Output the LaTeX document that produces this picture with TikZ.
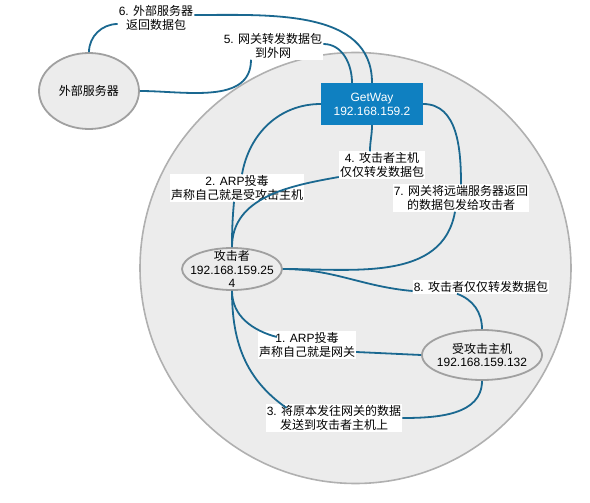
\documentclass[tikz,border=0pt]{standalone}
\usepackage{fontspec}
\setmainfont{Liberation Sans}
\newfontfamily\cjk{Noto Sans CJK SC}
\newcommand{\zh}[1]{{\cjk #1}}
\usepackage{tikz}
\usetikzlibrary{shapes.geometric}
\definecolor{wire}{HTML}{1A6890}
\definecolor{gwblue}{HTML}{0F80C1}
\definecolor{lanfill}{HTML}{ECECEC}
\definecolor{lanline}{HTML}{B0B0B0}
\definecolor{hostline}{HTML}{A0A0A0}

\begin{document}
\begin{tikzpicture}[x=1pt,y=-1pt,
    lbl/.style={fill=white,inner sep=1pt,align=center,font=\fontsize{12}{14}\selectfont},
    host/.style={ellipse,draw=hostline,line width=1.8pt,fill=lanfill,inner sep=0pt},
    hosttxt/.style={align=center,font=\fontsize{12}{13.5}\selectfont},
    wires/.style={draw=wire,line width=1.8pt}]
              \useasboundingbox (0,0) rectangle (590,503);
              \node (lan) [circle,draw=lanline,line width=1.6pt,fill=lanfill,minimum size=431pt] at (355.5,268) {};

              \node (ext) [host,minimum width=100pt,minimum height=76pt,
                label={[hosttxt]center:\zh{外部服务器}}] at (89,91) {};
              \node (gw) [rectangle,fill=gwblue,text=white,align=center,minimum width=102pt,minimum height=42pt,
                font=\fontsize{12}{14}\selectfont] at (372,104) {GetWay\\192.168.159.2};
              \node (att) [host,minimum width=100pt,minimum height=42pt,
                label={[hosttxt]center:\zh{攻击者}\\192.168.159.25\\4}] at (232,269) {};
              \node (vic) [host,minimum width=120pt,minimum height=50pt,
                label={[hosttxt]center:\zh{受攻击主机}\\192.168.159.132}] at (482,355) {};

              \node (lab6) [lbl] at (156,18) {6. \zh{外部服务器}\\\zh{返回数据包}};
              \node (lab5) [lbl] at (273,46) {5. \zh{网关转发数据包}\\\zh{到外网}};
              \node (lab2) [lbl] at (237,188) {2. ARP\zh{投毒}\\\zh{声称自己就是受攻击主机}};
              \node (lab4) [lbl] at (382,165) {4. \zh{攻击者主机}\\\zh{仅仅转发数据包}};
              \node (lab7) [lbl] at (461,198) {7. \zh{网关将远端服务器返回}\\\zh{的数据包发给攻击者}};
              \node (lab8) [lbl] at (481,287) {8. \zh{攻击者仅仅转发数据包}};
              \node (lab1) [lbl] at (307,345) {1. ARP\zh{投毒}\\\zh{声称自己就是网关}};
              \node (lab3) [lbl] at (334,418) {3. \zh{将原本发往网关的数据}\\\zh{发送到攻击者主机上}};

              \draw[wires] (ext.north) to[out=90,in=180] ([yshift=-6pt]lab6.west);
              \draw[wires] ([yshift=3pt]lab6.east) to[out=0,in=90] (gw.north);
              \draw[wires] (ext.east) to[out=0,in=-90] ([xshift=-22pt]lab5.south);
              \draw[wires] ([yshift=2pt]lab5.east) to[out=0,in=90] ([xshift=-20pt]gw.north);
              \draw[wires] (gw.west) to[out=180,in=80] ([xshift=5pt]lab2.north);
              \draw[wires] ([xshift=-3pt]lab2.south) to[out=-95,in=90] (att.north);
              \draw[wires] (gw.south) to[out=-90,in=90] ([xshift=-12pt]lab4.north);
              \draw[wires] ([yshift=-12pt]lab4.west) to[out=190,in=90] (att.north);
              \draw[wires] (gw.east) to[out=0,in=90] (lab7.north);
              \draw[wires] ([xshift=-6pt]lab7.south) to[out=-100,in=0] (att.east);
              \draw[wires] (att.east) to[out=0,in=175] ([yshift=-4pt]lab8.west);
              \draw[wires] ([xshift=-24pt]lab8.south) to[out=-20,in=90] (vic.north);
              \draw[wires] (att.south) to[out=-90,in=165] ([yshift=8pt,xshift=19pt]lab1.west);
              \draw[wires] ([yshift=-7pt]lab1.east) -- (vic.west);
              \draw[wires] (att.south) to[out=-90,in=145] ([yshift=10pt,xshift=21pt]lab3.west);
              \draw[wires] (lab3.east) to[out=0,in=-90] (vic.south);
            \end{tikzpicture}
\end{document}
